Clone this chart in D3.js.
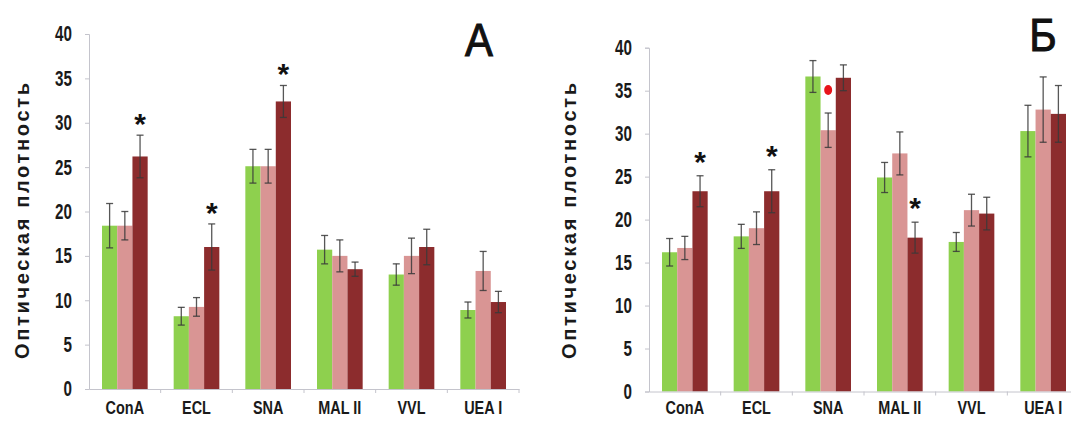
<!DOCTYPE html>
<html>
<head>
<meta charset="utf-8">
<script src="https://cdn.jsdelivr.net/npm/d3@7"></script>
<style>
  html, body { margin: 0; padding: 0; background: #fff; }
  svg { display: block; }
  .wide { font-family: "Liberation Sans", Arial, sans-serif; font-weight: bold; }
  .condR { transform-box: fill-box; transform-origin: right center; transform: scale(0.8, 1.12); }
  .condC { transform-box: fill-box; transform-origin: center center; transform: scale(0.85, 1.1); }
  .letter { font-family: "Liberation Sans", Arial, sans-serif; font-weight: normal; transform-box: fill-box; transform-origin: center center; transform: scale(0.95, 1.05); }
</style>
</head>
<body>
<svg id="chart" width="1071" height="423"></svg>
<script>
// ---- data ----
const categories = ["ConA", "ECL", "SNA", "MAL II", "VVL", "UEA I"];
const seriesKeys = ["s1", "s2", "s3"];
const seriesColors = ["#8ed04e", "#d99594", "#8c2c2d"];
const yTicks = [0, 5, 10, 15, 20, 25, 30, 35, 40];
const yTitle = "Оптическая плотность";

// Panel A
const aS1 = [18.4, 8.2, 25.1, 15.7, 12.9, 8.9];
const aS2 = [18.4, 9.25, 25.1, 15.0, 15.0, 13.3];
const aS3 = [26.2, 16.0, 32.4, 13.5, 16.0, 9.8];
const aS1Err = [2.5, 1.0, 1.9, 1.6, 1.2, 0.9];
const aS2Err = [1.6, 1.05, 1.9, 1.8, 2.0, 2.2];
const aS3Err = [2.4, 2.6, 1.8, 0.8, 2.0, 1.2];
const aStars = [{cat: "ConA", s: "s3"}, {cat: "ECL", s: "s3"}, {cat: "SNA", s: "s3"}];
const aDots = [];

// Panel B
const bS1 = [16.2, 18.05, 36.65, 24.9, 17.4, 30.3];
const bS2 = [16.7, 19.0, 30.4, 27.7, 21.1, 32.8];
const bS3 = [23.3, 23.3, 36.5, 17.9, 20.7, 32.3];
const bS1Err = [1.6, 1.4, 1.85, 1.75, 1.1, 3.0];
const bS2Err = [1.35, 1.9, 2.0, 2.5, 1.85, 3.8];
const bS3Err = [1.8, 2.5, 1.5, 1.8, 1.9, 3.3];
const bStars = [{cat: "ConA", s: "s3"}, {cat: "ECL", s: "s3"}, {cat: "MAL II", s: "s3"}];
const bDots = [{cat: "SNA", s: "s2"}];

const svg = d3.select("#chart");

function buildRows(v1, v2, v3, e1, e2, e3) {
  const vals = [v1, v2, v3], errs = [e1, e2, e3];
  const rows = [];
  categories.forEach((c, i) => {
    seriesKeys.forEach((s, j) => rows.push({cat: c, s: s, v: vals[j][i], e: errs[j][i], color: seriesColors[j]}));
  });
  return rows;
}

function drawPanel(opt) {
  const g = svg.append("g");
  const x = d3.scaleBand().domain(categories).range([opt.x0, opt.x1]).paddingInner(0).paddingOuter(0);
  const pad = 13;
  const xs = d3.scaleBand().domain(seriesKeys).range([pad, x.bandwidth() - pad]);
  const y = d3.scaleLinear().domain([0, 40]).range([opt.y0, opt.y1]);

  // y axis
  const yAxis = g.append("g").attr("transform", `translate(${opt.x0},0)`)
    .call(d3.axisLeft(y).tickValues(yTicks).tickSize(4).tickPadding(13));
  yAxis.select(".domain").attr("stroke", "#c4c4cc");
  yAxis.selectAll(".tick line").attr("stroke", "#c4c4cc");
  yAxis.selectAll(".tick text").attr("class", "wide condR").attr("font-size", 19).attr("fill", "#1a1a1a");

  const rows = buildRows(...opt.data);

  // bars
  g.selectAll("rect.bar").data(rows).join("rect").attr("class", "bar")
    .attr("x", d => x(d.cat) + xs(d.s))
    .attr("width", xs.bandwidth())
    .attr("y", d => y(d.v))
    .attr("height", d => y(0) - y(d.v))
    .attr("fill", d => d.color);

  // x axis
  const xAxis = g.append("g").attr("transform", `translate(0,${opt.y0})`)
    .call(d3.axisBottom(x).tickSize(0).tickPadding(opt.labelPad));
  xAxis.select(".domain").attr("stroke", "#c4c4cc");
  xAxis.selectAll(".tick text").attr("class", "wide condC").attr("font-size", 17).attr("fill", "#1a1a1a");
  // boundary tick marks
  g.selectAll("line.bt").data(categories.slice(1).concat(["__end"])).join("line").attr("class", "bt")
    .attr("x1", (d, i) => opt.x0 + x.bandwidth() * (i + 1))
    .attr("x2", (d, i) => opt.x0 + x.bandwidth() * (i + 1))
    .attr("y1", y(0)).attr("y2", y(0) + 4)
    .attr("stroke", "#c4c4cc");

  // error bars
  const eb = g.selectAll("g.eb").data(rows).join("g").attr("class", "eb")
    .attr("transform", d => `translate(${x(d.cat) + xs(d.s) + xs.bandwidth() / 2},0)`);
  eb.append("line").attr("x1", 0).attr("x2", 0)
    .attr("y1", d => y(d.v - d.e)).attr("y2", d => y(d.v + d.e))
    .attr("stroke", "#3a3a3a").attr("stroke-width", 1.3).attr("stroke-opacity", 0.85);
  eb.append("line").attr("x1", -3.5).attr("x2", 3.5)
    .attr("y1", d => y(d.v + d.e)).attr("y2", d => y(d.v + d.e))
    .attr("stroke", "#3a3a3a").attr("stroke-width", 1.3).attr("stroke-opacity", 0.85);
  eb.append("line").attr("x1", -3.5).attr("x2", 3.5)
    .attr("y1", d => y(d.v - d.e)).attr("y2", d => y(d.v - d.e))
    .attr("stroke", "#3a3a3a").attr("stroke-width", 1.3).attr("stroke-opacity", 0.85);

  const findRow = m => rows.find(r => r.cat === m.cat && r.s === m.s);
  // stars
  g.selectAll("text.star").data(opt.stars.map(findRow)).join("text").attr("class", "star wide")
    .attr("x", d => x(d.cat) + xs(d.s) + xs.bandwidth() / 2)
    .attr("y", d => y(d.v + d.e) - opt.starGap + 16)
    .attr("text-anchor", "middle").attr("font-size", 30).attr("fill", "#111")
    .text("*");
  // red dots
  g.selectAll("ellipse.dot").data(opt.dots.map(findRow)).join("ellipse").attr("class", "dot")
    .attr("cx", d => x(d.cat) + xs(d.s) + xs.bandwidth() / 2)
    .attr("cy", d => y(d.v + d.e) - 23)
    .attr("rx", 4).attr("ry", 5).attr("fill", "#e8141a");

  // y title
  g.append("text").attr("class", "wide")
    .attr("transform", `translate(${opt.titleX},221) rotate(-90)`)
    .attr("text-anchor", "middle").attr("dominant-baseline", "central")
    .attr("font-size", 20).attr("fill", "#1a1a1a")
    .attr("textLength", 276).attr("lengthAdjust", "spacing")
    .text(yTitle);

  // panel letter
  g.append("text").attr("class", "letter")
    .attr("x", opt.letterX).attr("y", opt.letterY)
    .attr("text-anchor", "middle").attr("font-size", 44).attr("fill", "#111")
    .attr("stroke", "#111").attr("stroke-width", 1)
    .text(opt.letter);
}

drawPanel({
  x0: 89, x1: 519, y0: 389, y1: 34,
  data: [aS1, aS2, aS3, aS1Err, aS2Err, aS3Err],
  stars: aStars, dots: aDots, starGap: 17, labelPad: 12,
  titleX: 22, letter: "А", letterX: 479, letterY: 55
});
drawPanel({
  x0: 649, x1: 1079, y0: 391.5, y1: 47.7,
  data: [bS1, bS2, bS3, bS1Err, bS2Err, bS3Err],
  stars: bStars, dots: bDots, starGap: 20, labelPad: 10,
  titleX: 569, letter: "Б", letterX: 1043, letterY: 50
});
</script>
</body>
</html>
